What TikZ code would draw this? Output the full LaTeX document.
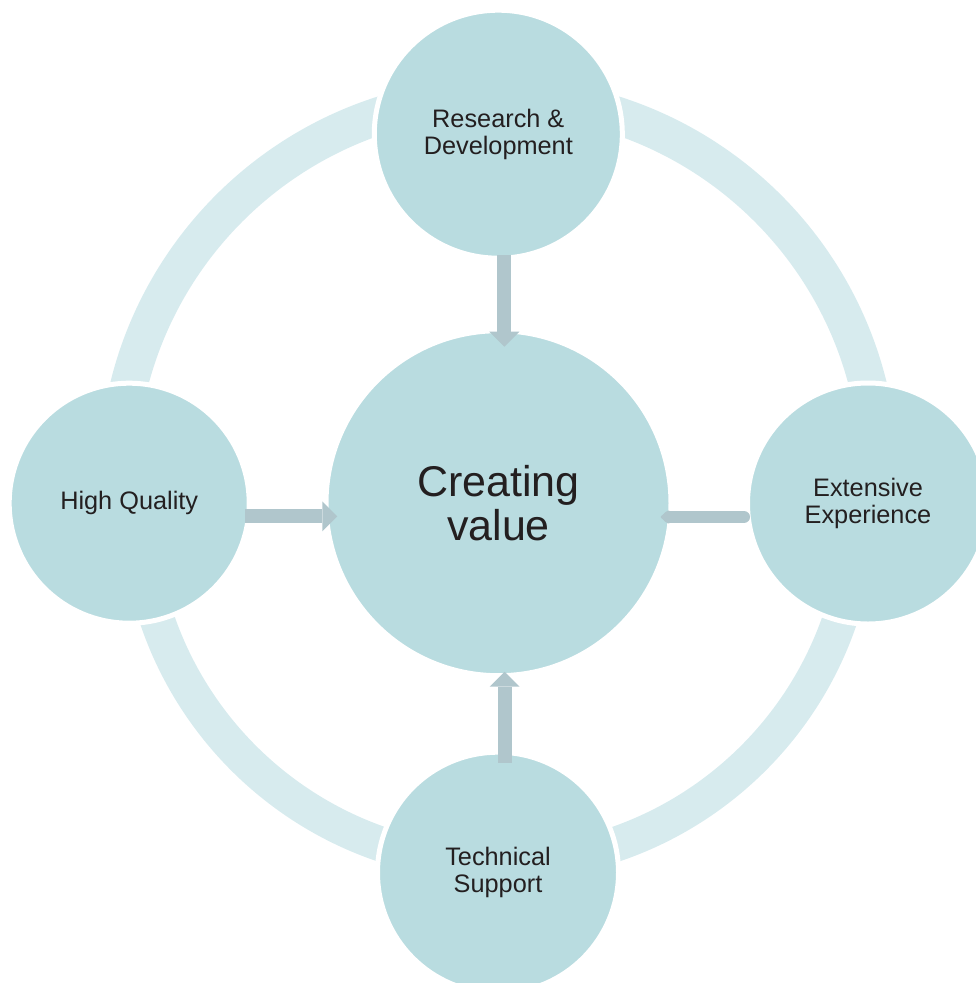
\documentclass[tikz,border=0pt]{standalone}
\usepackage{fontspec}
\setmainfont{Liberation Sans}
\usetikzlibrary{arrows.meta,calc}
\definecolor{bub}{HTML}{B9DCE0}
\definecolor{ringc}{HTML}{D7EBEE}
\definecolor{arrc}{HTML}{B0C6CC}
\definecolor{txt}{HTML}{231F20}
\begin{document}
\begin{tikzpicture}[x=1pt,y=-1pt,
  bubble/.style={circle, fill=bub, draw=white, line width=5pt, inner sep=0pt, outer sep=0pt,
    text=txt, align=center, font=\fontsize{25.3}{26.7}\selectfont},
  bigbubble/.style={bubble, font=\fontsize{43}{44.7}\selectfont},
  ringband/.style={draw=ringc},
  conn/.style={draw=arrc, line width=14pt, -{Triangle[width=30pt,length=15pt,line width=0pt]}},
  connround/.style={draw=arrc, line width=12.7pt, line cap=round,
    -{Triangle[width=15pt,length=10pt,line width=4pt,round]}}]
\useasboundingbox (0,0) rectangle (976,983);
\clip (0,0) rectangle (976,983);
% ring (two halves)
\coordinate (ringtop) at (498.5,477.5);
\coordinate (ringbot) at (498.5,503.2);
\begin{scope}
  \clip (0,0) rectangle (976,503.2);
  \draw[ringband, line width=37.5pt] (ringtop) circle[radius=380.8];
\end{scope}
\begin{scope}
  \clip (0,503.2) rectangle (976,983);
  \draw[ringband, line width=35pt] (ringbot) circle[radius=360.5];
\end{scope}
% nodes
\node[bigbubble, minimum size=345pt] (cv) at (498.5,503.2) {Creating\\value};
\node[bubble, minimum size=248pt] (rd) at (498.3,134.2) {Research \&\\Development};
\node[bubble, minimum size=240pt] (hq) at (129.2,503.2) {High Quality};
\node[bubble, minimum size=241pt] (ee) at (868,503.5) {Extensive\\Experience};
\node[bubble, minimum size=241pt] (ts) at (498,872.7) {Technical\\Support};
% connectors
\draw[conn] ($(rd.center)+(6,121)$) -- ($(cv.center)+(5.8,-156.5)$);
\draw[conn] ($(hq.center)+(116,13.1)$) -- ($(cv.center)+(-161.2,13.1)$);
\draw[conn] ($(ts.center)+(6.7,-110)$) -- ($(cv.center)+(6.2,168.5)$);
\draw[connround] ($(ee.center)+(-124.3,13.5)$) -- ($(cv.center)+(162.2,13.8)$);
\end{tikzpicture}
\end{document}
